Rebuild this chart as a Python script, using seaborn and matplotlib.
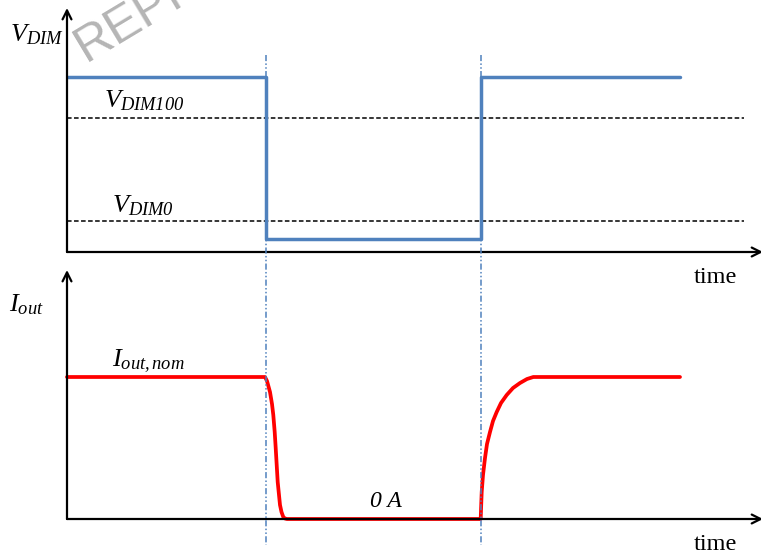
import matplotlib.pyplot as plt
import matplotlib.transforms as mtransforms
import seaborn as sns

# time in units of 100 px, 0 at the y axis
t_fall = 1.99
t_rise = 4.14

# top trace: dimming voltage
v_time = [0, t_fall, t_fall, t_rise, t_rise, 6.13]
v_dim = [1.75, 1.75, 0.13, 0.13, 1.75, 1.75]
v_dim100 = 1.34
v_dim0 = 0.31
ref_end = 6.77

# bottom trace: output current
i_time = [0, 1.98, 2.0, 2.03, 2.05, 2.063, 2.077, 2.087, 2.097, 2.107, 2.12, 2.13, 2.145,
          2.163, 2.18, 2.20,
          4.137, 4.142, 4.147, 4.16, 4.18, 4.20, 4.23, 4.26, 4.297, 4.34, 4.397, 4.46,
          4.53, 4.60, 4.663, 6.13]
i_out = [1.42, 1.42, 1.38, 1.27, 1.15, 1.04, 0.87, 0.71, 0.54, 0.37, 0.24, 0.14, 0.07,
         0.02, 0.005, 0.0,
         0.0, 0.14, 0.27, 0.44, 0.61, 0.75, 0.87, 0.98, 1.07, 1.16, 1.24, 1.31,
         1.36, 1.40, 1.42, 1.42]

sns.set_style('white')
plt.rcParams['font.family'] = ['Liberation Serif', 'DejaVu Serif']
plt.rcParams['text.color'] = 'black'
plt.rcParams['mathtext.fontset'] = 'custom'
plt.rcParams['mathtext.it'] = 'Liberation Serif:italic'
plt.rcParams['mathtext.rm'] = 'Liberation Serif:italic'

blue = '#4f81bd'
W, H = 761, 550
fig = plt.figure(figsize=(7.61, 5.5), dpi=100)
ax1 = fig.add_axes([67 / W, (H - 252) / H, (W - 67) / W, (252 - 8) / H])
ax2 = fig.add_axes([67 / W, (H - 519) / H, (W - 67) / W, (519 - 270) / H])

for ax, top in [(ax1, 2.44), (ax2, 2.49)]:
    ax.set_xlim(0, (W - 67) / 100)
    ax.set_ylim(0, top)
    ax.set_xticks([])
    ax.set_yticks([])
    for s in ax.spines.values():
        s.set_visible(False)
    ax.patch.set_alpha(0)
    arrow = dict(arrowstyle='->', lw=1.6, color='black', shrinkA=0, shrinkB=0,
                 mutation_scale=16)
    ax.annotate('', xy=(0, 1), xytext=(0, 0), xycoords='axes fraction', arrowprops=arrow)
    ax.annotate('', xy=(1.003, 0), xytext=(0, 0), xycoords='axes fraction', arrowprops=arrow,
                annotation_clip=False)

# reference levels
for lvl in [v_dim100, v_dim0]:
    ax1.plot([0, ref_end], [lvl, lvl], color='black', lw=1.1, dashes=(3, 1.6))

sns.lineplot(x=v_time, y=v_dim, ax=ax1, sort=False, estimator=None, color=blue, lw=2.5)
sns.lineplot(x=i_time, y=i_out, ax=ax2, sort=False, estimator=None, color='red', lw=2.7,
             clip_on=False, solid_joinstyle='round', solid_capstyle='round')

# switching edges, drawn across both panels
trans = mtransforms.blended_transform_factory(ax1.transData, fig.transFigure)
for t in [t_fall, t_rise]:
    fig.add_artist(plt.Line2D([t, t], [1 - 55 / H, 1 - 545 / H], transform=trans,
                              color=blue, lw=1.1, dashes=(4, 1.5, 1, 1.5, 1, 1.5)))

def px(x, y):
    return x / W, 1 - y / H

fs = 19
fig.text(*px(10, 41), r'$V_{DIM}$', fontsize=fs, va='baseline')
fig.text(*px(104, 107), r'$V_{DIM100}$', fontsize=fs, va='baseline')
fig.text(*px(112, 212), r'$V_{DIM0}$', fontsize=fs, va='baseline')
fig.text(*px(9, 311), r'$I_{out}$', fontsize=fs, va='baseline')
fig.text(*px(112, 366), r'$I_{out,nom}$', fontsize=fs, va='baseline')
fig.text(*px(370, 507), '0 A', fontsize=17, fontstyle='italic', va='baseline')
fig.text(*px(694, 283), 'time', fontsize=17.5, va='baseline')
fig.text(*px(694, 550), 'time', fontsize=17.5, va='baseline')

# watermark
fig.text(*px(86, 62), 'REPRINT', fontsize=36, color='#b5b5b5', rotation=31,
         rotation_mode='anchor', ha='left', va='baseline', family='Liberation Sans')

fig.savefig('out.png', dpi=100)
